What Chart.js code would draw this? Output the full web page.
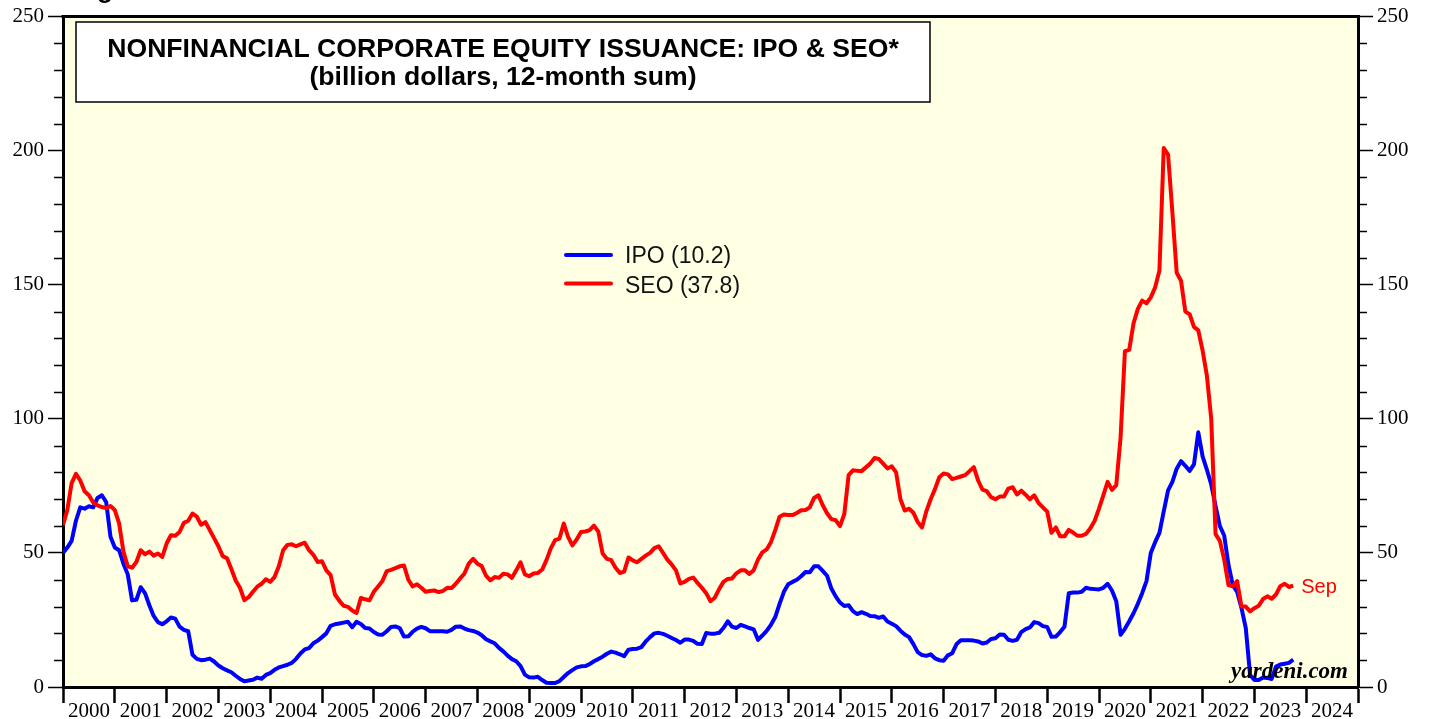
<!DOCTYPE html>
<html><head><meta charset="utf-8">
<script src="https://cdn.jsdelivr.net/npm/chart.js@4.4.1/dist/chart.umd.min.js"></script>
<style>html,body{margin:0;padding:0;background:#fff;}canvas{display:block;}</style>
</head><body>
<canvas id="c" width="1429" height="719"></canvas>
<script>
// Monthly 12-month sums, month-end points from Dec 1999 through Sep 2023
const firstPointYear = 2000;
const ipo = [
50, 52, 54.5, 62, 67, 66.5, 67.4, 67, 70.5, 71.5, 69, 56,
52, 51, 46, 42, 32.3, 32.5, 37.2, 35, 30.5, 26.5, 24.2, 23.4,
24.5, 25.9, 25.5, 22.5, 21.3, 20.8, 12, 10.5, 10, 10.2, 10.6, 9.5,
8, 7, 6.2, 5.5, 4.2, 3, 2.1, 2.4, 2.7, 3.5, 3.1, 4.5,
5.2, 6.4, 7.3, 7.8, 8.3, 9, 10.5, 12.5, 14, 14.5, 16.3, 17.3,
18.6, 20, 22.8, 23.4, 23.7, 24, 24.3, 22.3, 24.3, 23.5, 22, 21.8,
20.5, 19.6, 19.5, 20.8, 22.4, 22.6, 22, 18.8, 18.9, 20.6, 21.8, 22.4,
21.9, 20.8, 20.8, 20.8, 20.8, 20.6, 21.3, 22.5, 22.6, 21.8, 21.2, 20.9,
20.3, 19.3, 17.8, 17, 16.3, 14.6, 13.3, 11.7, 10.4, 9.6, 7.8, 4.6,
3.6, 3.5, 3.8, 2.6, 1.6, 1.5, 1.5, 2.2, 3.7, 5.2, 6.3, 7.3,
7.7, 7.8, 8.5, 9.6, 10.4, 11.3, 12.4, 13.2, 12.8, 12.2, 11.5, 13.9,
14.2, 14.3, 14.9, 17, 18.6, 20, 20.2, 19.8, 19.1, 18.3, 17.5, 16.5,
17.7, 17.7, 17.2, 16.1, 16, 20.1, 19.9, 19.9, 20.2, 22, 24.5, 22.5,
22, 23.2, 22.6, 22, 21.5, 17.6, 19.2, 20.9, 23.2, 26.1, 31, 35.5,
38.3, 39.2, 40, 41.3, 42.9, 42.8, 45, 45, 43.3, 41.5, 36.7, 33.8,
31.5, 30.2, 30.5, 28.3, 27.2, 27.9, 27.3, 26.5, 26.4, 25.8, 26.3, 24.4,
23.6, 22.7, 21, 19.6, 18.6, 16, 13, 11.9, 11.6, 12.2, 10.7, 10,
9.8, 11.8, 12.6, 16, 17.4, 17.4, 17.4, 17.3, 17, 16.2, 16.6, 17.9,
18.2, 19.6, 19.5, 17.6, 17.2, 17.6, 20.5, 21.6, 22.2, 24.2, 23.8, 22.7,
22.4, 18.7, 18.8, 20.5, 22.5, 35, 35.2, 35.2, 35.5, 37, 36.6, 36.5,
36.4, 37, 38.5, 36, 32, 19.5, 21.7, 24.5, 27.5, 31, 35, 39.5,
50, 54, 57.5, 65.5, 73.3, 76.5, 81.4, 84.2, 82.5, 80.6, 83, 95,
86, 81, 75.5, 67.5, 60, 56.5, 45.5, 38, 35.5, 29.5, 22, 4.5,
2.6, 2.6, 3.5, 3.4, 3, 7.6, 8.4, 8.7, 9, 10.2
];
const seo = [
60.3, 66, 76, 79.5, 77, 73, 71.5, 68.8, 67.7, 67.1, 66.7, 67.5,
66, 61, 50.5, 45, 44.5, 46.6, 51, 49.5, 50.5, 49, 49.8, 48.5,
53.5, 56.6, 56.4, 57.8, 61.2, 62, 64.7, 63.5, 60.5, 61.5, 58.5, 55.5,
52.5, 48.8, 48, 44, 39.7, 37, 32.4, 33.5, 35.5, 37.4, 38.5, 40.2,
39.2, 41, 45, 51, 53, 53.2, 52.5, 53.2, 53.8, 51, 49.3, 46.6,
46.9, 43.5, 41.7, 34.5, 32.2, 30.3, 29.9, 28.5, 27.6, 33.2, 32.7, 32.3,
35.5, 37.5, 39.5, 43.2, 43.7, 44.3, 45, 45.3, 40, 37.5, 38.3, 37,
35.5, 35.8, 36, 35.4, 35.8, 37, 36.9, 38.5, 40.5, 42.3, 46, 47.8,
46, 45.1, 41.5, 39.8, 41, 40.7, 42.2, 42, 40.7, 43.5, 46.5, 42,
41.3, 42.3, 42.5, 43.8, 47.3, 51.7, 54.8, 55.3, 61, 56, 52.8, 55,
57.8, 58, 58.5, 60.2, 58, 49.8, 47.8, 47.3, 44.5, 42.5, 43, 48.3,
47.2, 46.5, 47.8, 49, 50, 51.8, 52.5, 50, 47.5, 45.7, 43.5, 38.6,
39.2, 40.3, 40.8, 38.8, 37, 35, 32, 33.3, 36.5, 39.2, 40.3, 40.5,
42.4, 43.5, 43.5, 42.2, 43.5, 47.5, 50.2, 51.3, 54, 58.5, 63.5, 64.3,
64.1, 64.1, 64.9, 65.9, 66, 67, 70.5, 71.5, 67.8, 64.8, 62.6, 62.2,
60, 64.5, 79, 80.8, 80.6, 80.5, 81.9, 83.3, 85.4, 85, 83.3, 81.5,
82.3, 80, 70, 65.8, 66.5, 65, 61.5, 59.5, 65.5, 70, 73.8, 78.2,
79.6, 79.3, 77.5, 78, 78.5, 79, 80.5, 82, 77, 73.6, 73, 70.8,
70, 71, 71, 74, 74.5, 71.8, 73.2, 71.7, 70, 71.5, 68.6, 67,
65.4, 57.5, 59.5, 56.2, 56.2, 58.6, 57.6, 56.4, 56.4, 57.1, 59.2, 62,
66.5, 71.5, 76.5, 73.5, 75.3, 93, 125.2, 125.7, 135.6, 141, 144.1, 143.1,
145.3, 149, 155.3, 201, 198.5, 177, 154.5, 151.5, 140, 139, 134.3, 133,
125.5, 116, 100, 57, 54.5, 47.5, 38, 37.5, 39.5, 30, 30, 28.2,
29.4, 30.3, 32.8, 33.8, 32.9, 34.5, 37.6, 38.5, 37.3, 37.8
];
const yearLabels = ['2000','2001','2002','2003','2004','2005','2006','2007','2008','2009','2010','2011','2012',
  '2013','2014','2015','2016','2017','2018','2019','2020','2021','2022','2023','2024'];
const titleLines = ['NONFINANCIAL CORPORATE EQUITY ISSUANCE: IPO & SEO*', '(billion dollars, 12-month sum)'];
const legendLabels = ['IPO (10.2)', 'SEO (37.8)'];
const lastMonthLabel = 'Sep';
const sourceLabel = 'yardeni.com';

const BLUE = '#0000ff', RED = '#ff0000', BG = '#ffffe3';
const toPoints = arr => arr.map((v, i) => ({ x: firstPointYear + i / 12, y: v }));

const decor = {
  id: 'decor',
  beforeDraw(chart) {
    const { ctx, chartArea: a } = chart;
    ctx.save();
    ctx.fillStyle = '#fff';
    ctx.fillRect(0, 0, chart.width, chart.height);
    ctx.fillStyle = BG;
    ctx.fillRect(a.left, a.top, a.right - a.left, a.bottom - a.top);
    ctx.restore();
  },
  afterDraw(chart) {
    const { ctx, chartArea: a, scales } = chart;
    ctx.save();
    // minor ticks on both y axes
    ctx.strokeStyle = '#000';
    ctx.lineWidth = 1.5;
    for (let v = 0; v <= 250; v += 10) {
      if (v % 50 === 0) continue;
      const y = Math.round(scales.y.getPixelForValue(v)) + 0.5;
      ctx.beginPath();
      ctx.moveTo(a.left - 9, y); ctx.lineTo(a.left, y);
      ctx.moveTo(a.right, y); ctx.lineTo(a.right + 9, y);
      ctx.stroke();
    }
    // top frame line
    ctx.lineWidth = 3;
    ctx.beginPath();
    ctx.moveTo(a.left - 1.5, a.top); ctx.lineTo(a.right + 1.5, a.top);
    ctx.stroke();

    // title box
    ctx.fillStyle = '#fff';
    ctx.fillRect(76, 22, 854, 80);
    ctx.lineWidth = 1.5;
    ctx.strokeRect(76, 22, 854, 80);
    ctx.fillStyle = '#000';
    ctx.textAlign = 'center';
    ctx.textBaseline = 'alphabetic';
    ctx.font = 'bold 26.6px "Liberation Sans", Arial, sans-serif';
    ctx.fillText(titleLines[0], 503, 57);
    ctx.fillText(titleLines[1], 503, 85);

    // clipped heading fragment at the very top
    ctx.textAlign = 'left';
    ctx.font = 'bold 26px "Liberation Sans", Arial, sans-serif';
    ctx.fillText('g', 97, -2);

    // legend
    ctx.font = '23px "Liberation Sans", Arial, sans-serif';
    ctx.lineWidth = 4;
    ctx.lineCap = 'round';
    [[BLUE, legendLabels[0], 255, 263], [RED, legendLabels[1], 283.5, 293]].forEach(([c, t, ly, by]) => {
      ctx.strokeStyle = c;
      ctx.beginPath(); ctx.moveTo(566, ly); ctx.lineTo(611, ly); ctx.stroke();
      ctx.fillStyle = '#111';
      ctx.fillText(t, 625, by);
    });

    // last month label next to SEO end point
    const lastX = scales.x.getPixelForValue(firstPointYear + (seo.length - 1) / 12);
    const lastY = scales.y.getPixelForValue(seo[seo.length - 1]);
    ctx.fillStyle = RED;
    ctx.font = '20px "Liberation Sans", Arial, sans-serif';
    ctx.fillText(lastMonthLabel, lastX + 8, lastY + 7);

    // source
    ctx.fillStyle = '#000';
    ctx.textAlign = 'right';
    ctx.font = 'italic bold 23px "Liberation Serif", "Times New Roman", serif';
    ctx.fillText(sourceLabel, 1348, 678);
    ctx.restore();
  }
};

const yAxis = (pos, width) => ({
  type: 'linear', position: pos, min: 0, max: 250,
  afterFit: s => { s.width = width; },
  border: { display: true, color: '#000', width: 3 },
  grid: {
    drawOnChartArea: false, drawTicks: true, tickLength: 15, tickWidth: 1.5,
    tickColor: c => (c.tick && c.tick.value % 50 === 0) ? '#000' : 'rgba(0,0,0,0)'
  },
  ticks: {
    stepSize: 10, autoSkip: false, padding: 4, color: '#000',
    font: { family: '"Liberation Serif", "Times New Roman", serif', size: 21 },
    callback: v => (v % 50 === 0 ? String(v) : '')
  }
});

new Chart(document.getElementById('c'), {
  type: 'line',
  data: {
    datasets: [
      { label: 'SEO', data: toPoints(seo), borderColor: RED, borderWidth: 4, pointRadius: 0, tension: 0, order: 0, borderJoinStyle: 'round' },
      { label: 'IPO', data: toPoints(ipo), borderColor: BLUE, borderWidth: 4, pointRadius: 0, tension: 0, order: 1, borderJoinStyle: 'round' }
    ]
  },
  options: {
    responsive: false, animation: false, devicePixelRatio: 1,
    layout: { padding: { top: 15, left: 0, right: 0, bottom: 0 } },
    plugins: { legend: { display: false }, tooltip: { enabled: false }, title: { display: false } },
    scales: {
      x: {
        type: 'linear', position: 'bottom', min: 2000, max: 2025,
        afterFit: s => { s.height = 32; },
        afterBuildTicks: s => {
          const t = [];
          for (let k = 0; k <= yearLabels.length; k++) {
            t.push({ value: 2000 + k });
            if (k < yearLabels.length) t.push({ value: 2000 + k + 0.5 });
          }
          s.ticks = t;
        },
        border: { display: true, color: '#000', width: 3 },
        grid: {
          drawOnChartArea: false, drawTicks: true, tickLength: 16, tickWidth: 2.5,
          tickColor: c => (c.tick && Number.isInteger(c.tick.value)) ? '#000' : 'rgba(0,0,0,0)'
        },
        ticks: {
          autoSkip: false, maxRotation: 0, minRotation: 0, padding: -4, color: '#000',
          font: { family: '"Liberation Serif", "Times New Roman", serif', size: 21 },
          callback: v => (Number.isInteger(v) ? '' : yearLabels[Math.floor(v) - 2000])
        }
      },
      y: yAxis('left', 63),
      y2: yAxis('right', 71)
    }
  },
  plugins: [decor]
});
</script>
</body></html>
